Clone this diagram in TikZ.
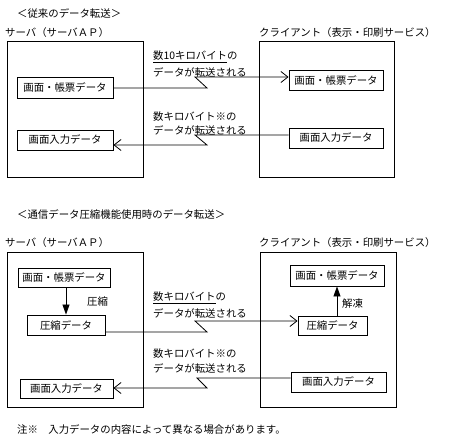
\documentclass[tikz,border=0pt]{standalone}
\usepackage{fontspec}
\setmainfont{Noto Sans CJK JP}
\usetikzlibrary{arrows.meta}
\tikzset{
  every node/.style={font=\fontsize{10.4}{12}\selectfont},
  lbl/.style={inner sep=0pt, anchor=west},
  frame/.style={draw, line width=0.9pt, inner sep=0pt},
  databox/.style={draw, line width=0.9pt, inner sep=0pt},
  xfer/.style={line width=0.8pt, -{Straight Barb[length=7pt,width=11pt,line width=0.8pt]}},
  proc/.style={line width=0.8pt, -{Triangle[length=10pt,width=7pt]}},
}
\begin{document}
\begin{tikzpicture}[x=1pt,y=-1pt]
\path[use as bounding box] (0,0) rectangle (461,446);

% ---------- section 1 ----------
\node[lbl] (t1) at (17,14) {＜従来のデータ転送＞};
\node[lbl] (sl1) at (5,33) {サーバ（サーバＡＰ）};
\node[lbl] (cl1) at (259,33) {クライアント（表示・印刷サービス）};

\node[frame, minimum width=136, minimum height=136] (srv1) at (75,109) {};
\node[frame, minimum width=135, minimum height=136] (cli1) at (326.5,109) {};

\node[databox, minimum width=96, minimum height=21] (s1a) at (65,87.5) {画面・帳票データ};
\node[databox, minimum width=96, minimum height=20] (s1b) at (65,140) {画面入力データ};
\node[databox, minimum width=94, minimum height=20] (c1a) at (336,80) {画面・帳票データ};
\node[databox, minimum width=94, minimum height=20] (c1b) at (336,138) {画面入力データ};

\node[lbl] (m1a) at (153,57) {\underline{数10キロバイト}の};
\node[lbl] (m1b) at (153,72) {データが転送される};
\node[lbl] (m2a) at (153,117) {数キロバイト※の};
\node[lbl] (m2b) at (153,130) {データが転送される};

\coordinate (k1a) at (207,88);
\coordinate (k1b) at (195,77);
\draw[xfer] (k1a -| s1a.east) -- (k1a) -- (k1b) -- (k1b -| c1a.west);

\coordinate (k2a) at (195,135);
\coordinate (k2b) at (207,145);
\draw[xfer] (k2a -| c1b.west) -- (k2a) -- (k2b) -- (k2b -| s1b.east);

% ---------- section 2 ----------
\node[lbl] (t2) at (17,215) {＜通信データ圧縮機能使用時のデータ転送＞};
\node[lbl] (sl2) at (5,243) {サーバ（サーバＡＰ）};
\node[lbl] (cl2) at (259,243) {クライアント（表示・印刷サービス）};

\node[frame, minimum width=136, minimum height=155] (srv2) at (75,329.5) {};
\node[frame, minimum width=136, minimum height=155] (cli2) at (328,329.5) {};

\node[databox, minimum width=92, minimum height=19] (s2a) at (64,277.5) {画面・帳票データ};
\node[databox, minimum width=78, minimum height=20] (s2b) at (66,325) {圧縮データ};
\node[databox, minimum width=93, minimum height=19] (s2c) at (66.5,389) {画面入力データ};
\node[databox, minimum width=94, minimum height=21] (c2a) at (337,275.5) {画面・帳票データ};
\node[databox, minimum width=69, minimum height=19] (c2b) at (332.5,325.5) {圧縮データ};
\node[databox, minimum width=95, minimum height=20] (c2c) at (338.5,382) {画面入力データ};

\draw[proc] (s2b.north |- s2a.south) -- (s2b.north);
\node[lbl] (cmp) at (87,302) {圧縮};
\draw[proc] (c2a.south |- c2b.north) -- (c2a.south);
\node[lbl] (dec) at (342,304) {解凍};

\node[lbl] (m3a) at (153,298) {\underline{数キロバイト}の};
\node[lbl] (m3b) at (153,313) {データが転送される};
\node[lbl] (m4a) at (153,354) {数キロバイト※の};
\node[lbl] (m4b) at (153,368) {データが転送される};

\coordinate (k3a) at (207,332);
\coordinate (k3b) at (195,321);
\draw[xfer] (k3a -| s2b.east) -- (k3a) -- (k3b) -- (k3b -| c2b.west);

\coordinate (k4a) at (197,378);
\coordinate (k4b) at (207,388);
\draw[xfer] (k4a -| c2c.west) -- (k4a) -- (k4b) -- (k4b -| s2c.east);

\node[lbl] (note) at (17,430) {注※　入力データの内容によって異なる場合があります。};
\end{tikzpicture}
\end{document}
